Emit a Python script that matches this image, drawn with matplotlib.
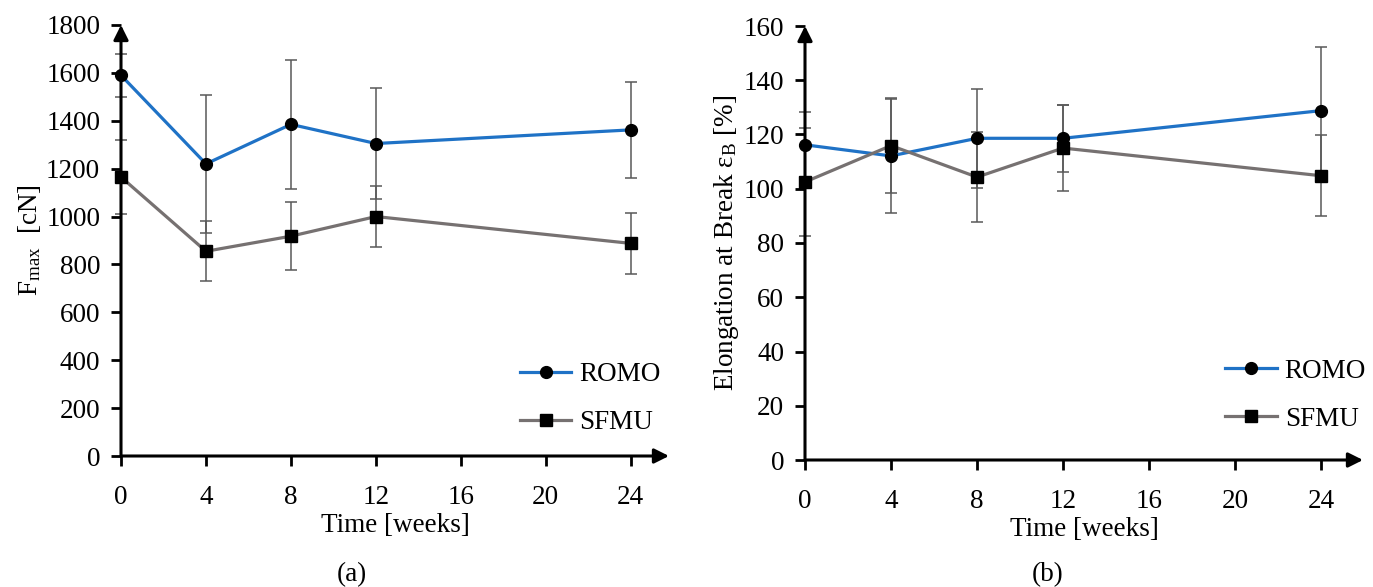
import matplotlib
matplotlib.use("Agg")
import matplotlib.pyplot as plt

plt.rcParams['font.family'] = ['Liberation Serif', 'DejaVu Serif']
plt.rcParams['mathtext.fontset'] = 'custom'
plt.rcParams['mathtext.rm'] = 'Liberation Serif'
plt.rcParams['mathtext.it'] = 'Liberation Serif:italic'

# дані
weeks = [0, 4, 8, 12, 24]
fmax_romo = [1590, 1220, 1385, 1305, 1362]
fmax_romo_err = [90, 288, 270, 230, 200]
fmax_sfmu = [1165, 855, 918, 1000, 888]
fmax_sfmu_err = [155, 125, 143, 126, 127]
elong_romo = [116.2, 112.1, 118.6, 118.6, 128.8]
elong_romo_err = [12, 21, 18.2, 12.4, 23.5]
elong_sfmu = [102.5, 115.9, 104.3, 115, 104.8]
elong_sfmu_err = [20, 17.5, 16.5, 16, 15]
x_ticks = [0, 4, 8, 12, 16, 20, 24]

blue = '#1f72c6'
grey = '#767171'
err_col = '#595959'
fs = 19.5

W, H = 1373, 587
fig = plt.figure(figsize=(W / 100, H / 100), dpi=100)


def px_axes(x0, x1, y0, y1):
    return fig.add_axes([x0 / W, 1 - y0 / H, (x1 - x0) / W, (y0 - y1) / H])


def draw(ax, romo, romo_err, sfmu, sfmu_err, xmax, ymax, ystep, ylabel, leg_pos):
    ax.errorbar(weeks, romo, yerr=romo_err, fmt='none', ecolor=err_col, elinewidth=1.1,
                capsize=4, capthick=1.1, zorder=3, clip_on=False)
    ax.errorbar(weeks, sfmu, yerr=sfmu_err, fmt='none', ecolor=err_col, elinewidth=1.1,
                capsize=4, capthick=1.1, zorder=3, clip_on=False)
    ax.plot(weeks, romo, color=blue, lw=2.3, marker='o', ms=8.5, mfc='k', mec='k',
            label='ROMO', zorder=4, clip_on=False)
    ax.plot(weeks, sfmu, color=grey, lw=2.3, marker='s', ms=8.5, mfc='k', mec='k',
            label='SFMU', zorder=4, clip_on=False)
    ax.set_xlim(0, xmax)
    ax.set_ylim(0, ymax)
    ax.set_xticks(x_ticks)
    ax.set_yticks(range(0, ymax + 1, ystep))
    for s in ax.spines.values():
        s.set_visible(False)
    # осі зі стрілками
    ax.annotate('', xy=(1, 0), xytext=(0, 0), xycoords='axes fraction',
                arrowprops=dict(arrowstyle='-|>', lw=2.2, color='k', mutation_scale=22,
                                shrinkA=0, shrinkB=0))
    ax.annotate('', xy=(0, 1), xytext=(0, 0), xycoords='axes fraction',
                arrowprops=dict(arrowstyle='-|>', lw=2.2, color='k', mutation_scale=22,
                                shrinkA=0, shrinkB=0))
    ax.tick_params(axis='both', direction='out', width=2, length=7, labelsize=fs)
    ax.tick_params(axis='x', pad=14)
    ax.tick_params(axis='y', pad=8)
    ax.set_xlabel('Time [weeks]', fontsize=fs, labelpad=2)
    ax.set_ylabel(ylabel, fontsize=fs, labelpad=2)
    ax.patch.set_visible(False)
    ax.legend(loc='center left', bbox_to_anchor=leg_pos, frameon=False, fontsize=fs,
              borderpad=0, borderaxespad=0, handlelength=1.9, handletextpad=0.3,
              labelspacing=0.85)


ax1 = px_axes(121, 669, 456, 25)
draw(ax1, fmax_romo, fmax_romo_err, fmax_sfmu, fmax_sfmu_err, 25.8, 1800, 200,
     'F$_{\\mathregular{max}}$  [cN]', (0.728, 0.133))

ax2 = px_axes(805, 1363, 460, 26)
draw(ax2, elong_romo, elong_romo_err, elong_sfmu, elong_sfmu_err, 25.95, 160, 20,
     'Elongation at Break \u03b5$_{\\mathregular{B}}$ [%]', (0.753, 0.149))

fig.text(352 / W, 1 - 575 / H, '(a)', ha='center', va='center', fontsize=fs)
fig.text(1048 / W, 1 - 575 / H, '(b)', ha='center', va='center', fontsize=fs)

fig.savefig('out.png', dpi=100)
